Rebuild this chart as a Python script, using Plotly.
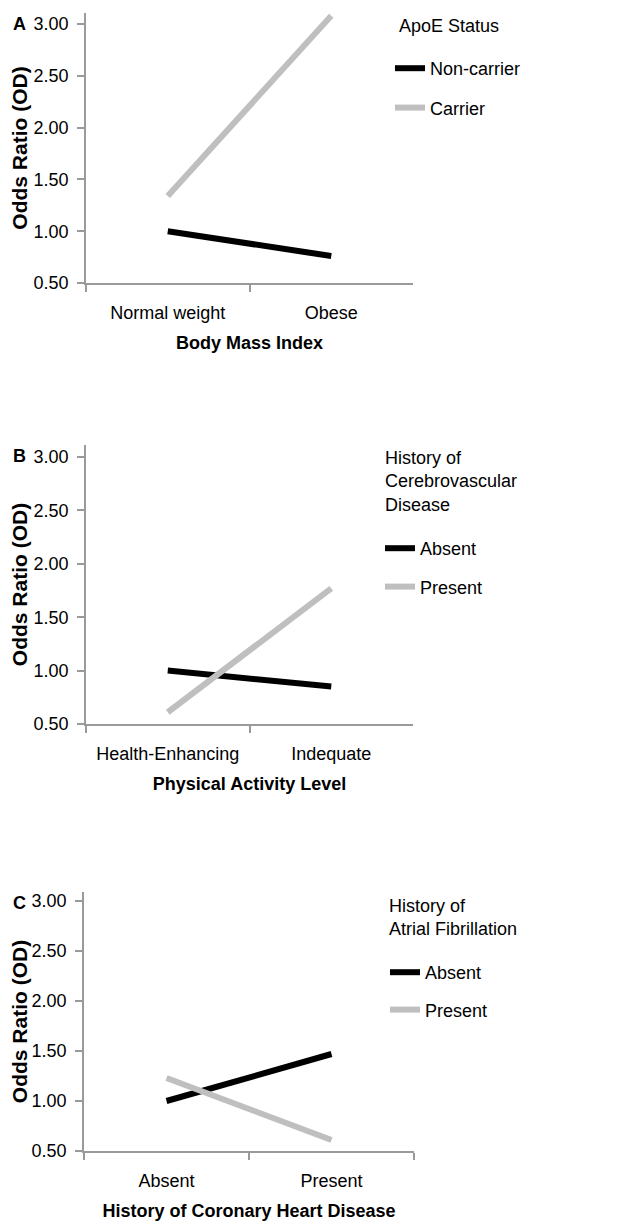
import plotly.graph_objects as go

# ---- data ----
cats_a = ["Normal weight", "Obese"]
noncarrier = [1.00, 0.76]
carrier = [1.34, 3.08]

cats_b = ["Health-Enhancing", "Indequate"]
cvd_absent = [1.00, 0.85]
cvd_present = [0.61, 1.77]

cats_c = ["Absent", "Present"]
af_absent = [1.00, 1.47]
af_present = [1.23, 0.61]

yticks = [0.5, 1.0, 1.5, 2.0, 2.5, 3.0]
yticklabels = ["0.50", "1.00", "1.50", "2.00", "2.50", "3.00"]

# page body has an 8px margin; size the figure so it fits the 628x1223 window
OFF = 8
W, H = 628 - OFF, 1223 - OFF
FONT = "Liberation Sans, Arial, sans-serif"
AXC = "#9a9a9a"
BLACK = "#000000"
GRAY = "#bfbfbf"


def px(x):
    return (x - OFF) / W


def py(y):
    return 1 - (y - OFF) / H


fig = go.Figure()

panels = [
    dict(cats=cats_a, s1=noncarrier, s2=carrier, names=["Non-carrier", "Carrier"],
         ltitle="ApoE Status", xtitle="Body Mass Index", letter="A",
         l=86, r=413, t=13, b=283, ymax=3.106, leg="legend", lx=390, ly=50, gap=13,
         tx=397, ty=14),
    dict(cats=cats_b, s1=cvd_absent, s2=cvd_present, names=["Absent", "Present"],
         ltitle="History of<br>Cerebrovascular<br>Disease", xtitle="Physical Activity Level", letter="B",
         l=86, r=413, t=445, b=724, ymax=3.112, leg="legend2", lx=380, ly=530, gap=12,
         tx=383, ty=446),
    dict(cats=cats_c, s1=af_absent, s2=af_present, names=["Absent", "Present"],
         ltitle="History of<br>Atrial Fibrillation", xtitle="History of Coronary Heart Disease", letter="C",
         l=84, r=414, t=892, b=1151, ymax=3.09, leg="legend3", lx=385, ly=954, gap=11,
         tx=387, ty=894),
]

layout_extra = {}
annotations = []
for i, p in enumerate(panels):
    n = "" if i == 0 else str(i + 1)
    xa, ya = "x" + n, "y" + n
    for vals, name, col in [(p["s1"], p["names"][0], BLACK), (p["s2"], p["names"][1], GRAY)]:
        fig.add_trace(go.Scatter(
            x=p["cats"], y=vals, mode="lines", name=name,
            line=dict(color=col, width=6),
            xaxis=xa, yaxis=ya, legend=p["leg"], legendgroup=f"{i}-{name}",
        ))
    layout_extra["xaxis" + n] = dict(
        domain=[px(p["l"]), px(p["r"])], anchor=ya,
        type="category", range=[-0.5, 1.5], tickson="boundaries",
        showline=True, linecolor=AXC, linewidth=1.5,
        ticks="outside", ticklen=7, tickcolor=AXC, tickwidth=1.5,
        showgrid=False, zeroline=False, automargin=False,
        tickfont=dict(size=18, color="#000", family=FONT),
        ticklabelstandoff=13,
        title=dict(text="<b>" + p["xtitle"] + "</b>", font=dict(size=18, color="#000", family=FONT), standoff=14),
    )
    layout_extra["yaxis" + n] = dict(
        domain=[py(p["b"]), py(p["t"])], anchor=xa,
        range=[0.5, p["ymax"]], tickvals=yticks, ticktext=yticklabels,
        showline=True, linecolor=AXC, linewidth=1.5,
        ticks="outside", ticklen=7, tickcolor=AXC, tickwidth=1.5,
        showgrid=False, zeroline=False, automargin=False,
        tickfont=dict(size=18, color="#000", family=FONT),
        ticklabelstandoff=5,
        title=dict(text="<b>Odds Ratio (OD)</b>", font=dict(size=21, color="#000", family=FONT), standoff=7),
    )
    layout_extra[p["leg"]] = dict(
        x=px(p["lx"]), y=py(p["ly"]), xanchor="left", yanchor="top",
        font=dict(size=18, color="#000", family=FONT),
        bgcolor="rgba(0,0,0,0)", traceorder="grouped", tracegroupgap=p["gap"],
        itemwidth=30,
    )
    annotations.append(dict(
        text=p["ltitle"], xref="paper", yref="paper",
        x=px(p["tx"]), y=py(p["ty"]), showarrow=False,
        xanchor="left", yanchor="top", align="left",
        font=dict(size=18, color="#000", family=FONT),
    ))
    annotations.append(dict(
        text="<b>" + p["letter"] + "</b>", xref="paper", yref="paper",
        x=px(19), y=py(p["t"] + 11), showarrow=False,
        xanchor="center", yanchor="middle",
        font=dict(size=18, color="#000", family=FONT),
    ))

fig.update_layout(
    width=W, height=H,
    margin=dict(l=0, r=0, t=0, b=0),
    paper_bgcolor="white", plot_bgcolor="white",
    font=dict(family=FONT, color="#000"),
    showlegend=True,
    annotations=annotations,
    **layout_extra,
)

fig.write_html("out.html")
